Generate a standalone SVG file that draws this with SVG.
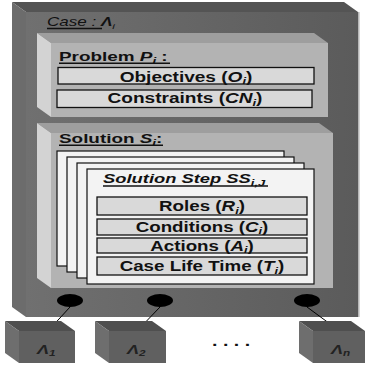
<svg xmlns="http://www.w3.org/2000/svg" width="366" height="367" viewBox="0 0 366 367">
  <defs>
    <linearGradient id="caseFace" gradientUnits="userSpaceOnUse" x1="26" y1="0" x2="358" y2="0">
      <stop offset="0" stop-color="#707070"/>
      <stop offset="1" stop-color="#5b5b5b"/>
    </linearGradient>
    <marker id="arrow" viewBox="0 0 10 10" refX="10" refY="5" markerWidth="7" markerHeight="5.5" markerUnits="userSpaceOnUse" orient="auto">
      <path d="M0,0 L10,5 L0,10 z" fill="#000"/>
    </marker>
  </defs>
  <style>
    .t { font-family: "Liberation Sans", Arial, sans-serif; font-weight: bold; font-size: 14px; fill: #111; }
    .h { font-size: 13.5px; }
    .v { font-style: italic; }
    .s { font-size: 9.5px; font-style: italic; }
    .ul { stroke: #111; stroke-width: 1.4; }
    .row { fill: #d9d9d9; stroke: #111; stroke-width: 1.3; }
    .card { fill: #f3f3f3; stroke: #111; stroke-width: 1.2; }
    .topP { fill: #9e9e9e; }
    .leftP { fill: #d3d3d3; }
    .faceP { fill: #b3b3b3; }
    .topA { fill: #4f4f4f; }
    .leftA { fill: #6e6e6e; }
    .faceA { fill: #606060; }
    .port { fill: #000; }
    .conn { stroke: #000; stroke-width: 1; fill: none; marker-end: url(#arrow); }
    .al { font-size: 13px; fill: #222; font-style: italic; }
  </style>

  <!-- Case container -->
  <g id="case">
    <polygon points="12,2 344,2 358,12 26,12" fill="#545454"/>
    <polygon points="12,2 26,12 26,317 12,307" fill="#6c6c6c"/>
    <rect x="26" y="12" width="332" height="305" fill="url(#caseFace)"/>
    <line x1="358.8" y1="12" x2="358.8" y2="317" stroke="#b0b0b0" stroke-width="1.4"/>
    <text class="t" transform="translate(47,26) scale(1.42,1)" style="font-size:12px;font-weight:normal;font-style:italic">Case : <tspan style="font-weight:bold">Λ</tspan><tspan class="s" dy="2.5" style="font-size:8px">i</tspan></text>
    <line class="ul" x1="47" y1="28.5" x2="102" y2="28.5"/>
  </g>

  <!-- Problem -->
  <g id="problem">
    <polygon class="topP" points="37,33 314,33 328,43 51,43"/>
    <polygon class="leftP" points="37,33 51,43 51,117 37,107"/>
    <rect class="faceP" x="51" y="43" width="277" height="74"/>
    <text class="t h" transform="translate(59,61) scale(1.4,1)">Problem <tspan class="v">P</tspan><tspan class="s" dy="2.5">i</tspan><tspan dy="-2.5"> :</tspan></text>
    <line class="ul" x1="59" y1="63.3" x2="170" y2="63.3"/>
  </g>
  <g id="objectives">
    <rect class="row" x="58" y="67.5" width="256" height="16.5"/>
    <text class="t" text-anchor="middle" transform="translate(186,81.5) scale(1.36,1)">Objectives (<tspan class="v">O</tspan><tspan class="s" dy="2.5">i</tspan><tspan dy="-2.5">)</tspan></text>
  </g>
  <g id="constraints">
    <rect class="row" x="57" y="90" width="255" height="17.5"/>
    <text class="t" text-anchor="middle" transform="translate(185,103) scale(1.36,1)">Constraints (<tspan class="v">CN</tspan><tspan class="s" dy="2.5">i</tspan><tspan dy="-2.5">)</tspan></text>
  </g>

  <!-- Solution -->
  <g id="solution">
    <polygon class="topP" points="37,123 319,123 333,133 51,133"/>
    <polygon class="leftP" points="37,123 51,133 51,288 37,278"/>
    <rect class="faceP" x="51" y="133" width="282" height="155"/>
    <text class="t h" transform="translate(59,143) scale(1.4,1)">Solution <tspan class="v">S</tspan><tspan class="s" dy="2.5">i</tspan><tspan dy="-2.5">:</tspan></text>
    <line class="ul" x1="59" y1="145.3" x2="163" y2="145.3"/>
  </g>

  <!-- Stack of solution steps -->
  <g id="steps">
    <rect class="card" x="57" y="151" width="227" height="115"/>
    <rect class="card" x="67" y="157" width="227" height="115"/>
    <rect class="card" x="77" y="163" width="227" height="115"/>
  </g>
  <g id="step">
    <rect class="card" x="87" y="169" width="227" height="115"/>
    <text class="t h v" transform="translate(103,183) scale(1.36,1)">Solution Step SS<tspan class="s" dy="2.5">i,J</tspan></text>
    <line class="ul" x1="103" y1="186" x2="268" y2="186"/>
  </g>
  <g id="roles">
    <rect class="row" x="97" y="197" width="210" height="18"/>
    <text class="t" text-anchor="middle" transform="translate(202,211) scale(1.34,1)">Roles (<tspan class="v">R</tspan><tspan class="s" dy="2.5">i</tspan><tspan dy="-2.5">)</tspan></text>
  </g>
  <g id="conditions">
    <rect class="row" x="97" y="219" width="210" height="16"/>
    <text class="t" text-anchor="middle" transform="translate(202,231.5) scale(1.34,1)">Conditions (<tspan class="v">C</tspan><tspan class="s" dy="2.5">i</tspan><tspan dy="-2.5">)</tspan></text>
  </g>
  <g id="actions">
    <rect class="row" x="97" y="238" width="210" height="15"/>
    <text class="t" text-anchor="middle" transform="translate(202,250.5) scale(1.34,1)">Actions (<tspan class="v">A</tspan><tspan class="s" dy="2.5">i</tspan><tspan dy="-2.5">)</tspan></text>
  </g>
  <g id="lifetime">
    <rect class="row" x="97" y="257" width="210" height="18"/>
    <text class="t" text-anchor="middle" transform="translate(202,271) scale(1.34,1)">Case Life Time (<tspan class="v">T</tspan><tspan class="s" dy="2.5">i</tspan><tspan dy="-2.5">)</tspan></text>
  </g>

  <!-- Output ports on the case -->
  <g id="ports">
    <ellipse class="port" cx="70" cy="300.5" rx="13" ry="6.5"/>
    <ellipse class="port" cx="160" cy="300.5" rx="13" ry="6.5"/>
    <ellipse class="port" cx="307" cy="300.5" rx="13" ry="6.5"/>
  </g>

  <!-- Connectors -->
  <g id="connectors">
    <line class="conn" x1="70" y1="307" x2="48" y2="331"/>
    <line class="conn" x1="160" y1="307" x2="137" y2="331"/>
    <line class="conn" x1="307" y1="307" x2="341" y2="332"/>
  </g>

  <!-- Related cases -->
  <g id="case-1">
    <polygon class="topA" points="5,321 61,321 75,331 19,331"/>
    <polygon class="leftA" points="5,321 19,331 19,363 5,353"/>
    <rect class="faceA" x="19" y="331" width="56" height="32"/>
    <text class="t al" transform="translate(37,354) scale(1.38,1)">Λ<tspan class="s" dy="2" style="font-size:8.5px">1</tspan></text>
  </g>
  <g id="case-2">
    <polygon class="topA" points="95,321 152,321 166,331 109,331"/>
    <polygon class="leftA" points="95,321 109,331 109,363 95,353"/>
    <rect class="faceA" x="109" y="331" width="57" height="32"/>
    <text class="t al" transform="translate(127,354) scale(1.38,1)">Λ<tspan class="s" dy="2" style="font-size:8.5px">2</tspan></text>
  </g>
  <text class="t" transform="translate(212,346) scale(1.4,1)" style="font-size:14px">. . . .</text>
  <g id="case-n">
    <polygon class="topA" points="299,321 351,321 365,331 313,331"/>
    <polygon class="leftA" points="299,321 313,331 313,363 299,353"/>
    <rect class="faceA" x="313" y="331" width="52" height="32"/>
    <text class="t al" transform="translate(331,354) scale(1.38,1)">Λ<tspan class="s" dy="2" style="font-size:8.5px">n</tspan></text>
  </g>
</svg>
